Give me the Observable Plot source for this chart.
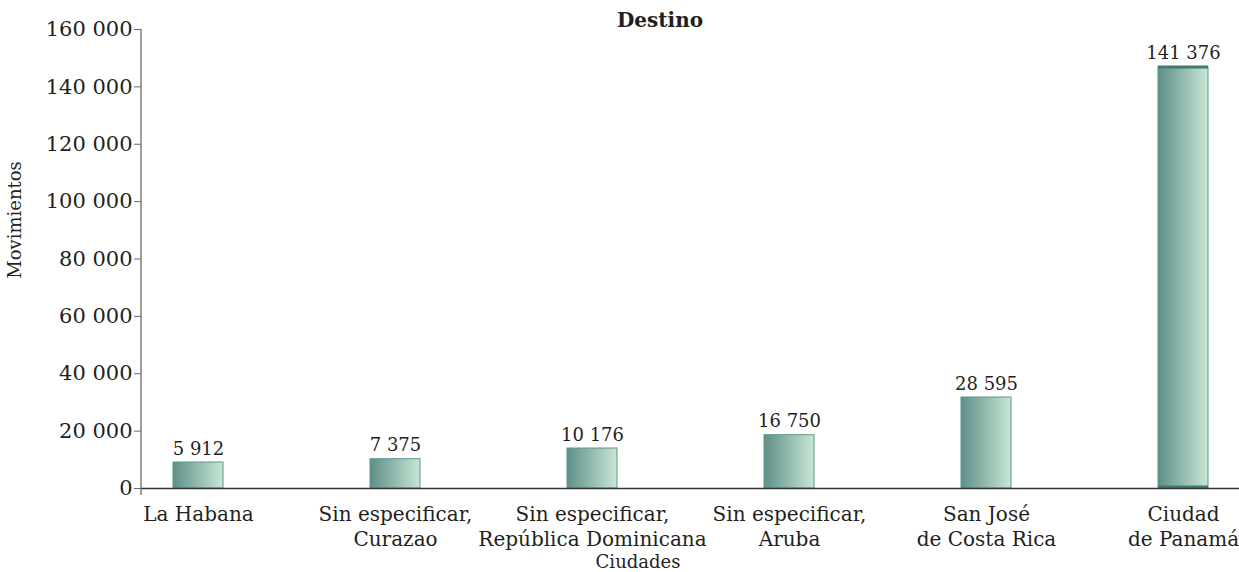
<!DOCTYPE html>
<html>
<head>
<meta charset="utf-8">
<script src="https://cdn.jsdelivr.net/npm/d3@7"></script>
<script src="https://cdn.jsdelivr.net/npm/@observablehq/plot@0.6"></script>
<style>
  html, body { margin: 0; padding: 0; background: #fff; }
  #wrap { position: relative; width: 1239px; height: 572px; font-family: "DejaVu Serif", serif; color: #231f20; }
  .lbl { position: absolute; white-space: nowrap; }
  #title { left: 660px; top: 10px; transform: translateX(-50%); font-size: 20px; line-height: 20px; font-weight: bold; }
  #ylab { left: 15px; top: 220px; transform: translate(-50%, -50%) rotate(-90deg); font-size: 18px; line-height: 18px; }
  #xlab { left: 638px; top: 553px; transform: translateX(-50%); font-size: 18px; line-height: 18px; }
</style>
</head>
<body>
<div id="wrap">
  <div id="chart"></div>
  <div class="lbl" id="title">Destino</div>
  <div class="lbl" id="ylab">Movimientos</div>
  <div class="lbl" id="xlab">Ciudades</div>
</div>
<script>
// Categories (x axis tick labels, two lines where the reference breaks them)
const ciudades = [
  "La Habana",
  "Sin especificar,\nCurazao",
  "Sin especificar,\nRepública Dominicana",
  "Sin especificar,\nAruba",
  "San José\nde Costa Rica",
  "Ciudad\nde Panamá"
];
// Printed value labels above the bars
const valores = [5912, 7375, 10176, 16750, 28595, 141376];
// Bar heights as drawn in the reference (read against the y axis)
const alturas = [9060, 10210, 13940, 18580, 31720, 146900];
// Y axis ticks
const yTicks = [0, 20000, 40000, 60000, 80000, 100000, 120000, 140000, 160000];

const fmt = d => d3.format(",")(d).replace(/,/g, " ");
const data = ciudades.map((c, i) => ({ciudad: c, valor: valores[i], altura: alturas[i]}));
const ultimo = data.filter(d => d.ciudad === ciudades[ciudades.length - 1]);

const gradientDefs = () => {
  const defs = d3.create("svg:defs");
  const g = defs.append("linearGradient").attr("id", "barGrad")
    .attr("x1", "0").attr("x2", "1").attr("y1", "0").attr("y2", "0");
  g.append("stop").attr("offset", "0%").attr("stop-color", "#5e8f89");
  g.append("stop").attr("offset", "100%").attr("stop-color", "#c9e6d5");
  return defs.node();
};

const yAxisLine = (index, scales, values, dimensions) => {
  return d3.create("svg:line")
    .attr("x1", dimensions.marginLeft).attr("x2", dimensions.marginLeft)
    .attr("y1", scales.y(yTicks[yTicks.length - 1]))
    .attr("y2", scales.y(0) + 7)
    .attr("stroke", "#6b6b6b").attr("stroke-width", 1.3)
    .node();
};

const chart = Plot.plot({
  width: 1239,
  height: 572,
  marginTop: 29,
  marginBottom: 84,
  marginLeft: 141,
  marginRight: 0,
  style: {fontFamily: "DejaVu Serif, serif", fontSize: "20px", color: "#231f20", background: "transparent"},
  x: {type: "band", domain: ciudades, paddingInner: 0.747, paddingOuter: 0.152, align: 0.5},
  y: {domain: [0, 160000]},
  marks: [
    gradientDefs,
    Plot.barY(data, {x: "ciudad", y: "altura", fill: "url(#barGrad)", stroke: "#5a9888", strokeWidth: 1}),
    Plot.tickY(ultimo, {x: "ciudad", y: "altura", stroke: "#3e7d6e", strokeWidth: 3}),
    Plot.tickY(ultimo, {x: "ciudad", y: 0, stroke: "#3e7d6e", strokeWidth: 3, dy: -1.5}),
    Plot.text(data, {x: "ciudad", y: "altura", text: d => fmt(d.valor), dy: -8, lineAnchor: "bottom", fill: "#231f20", fontSize: 18}),
    Plot.ruleY([0], {stroke: "#333", strokeWidth: 1.3}),
    yAxisLine,
    Plot.axisY({ticks: yTicks, tickFormat: fmt, tickSize: 7, tickPadding: 2, label: null, stroke: "#6b6b6b", fill: "#231f20", fontSize: 21}),
    Plot.axisX({tickSize: 0, tickPadding: 15, label: null, lineHeight: 1.25, fill: "#231f20"})
  ]
});
document.getElementById("chart").appendChild(chart);
</script>
</body>
</html>
